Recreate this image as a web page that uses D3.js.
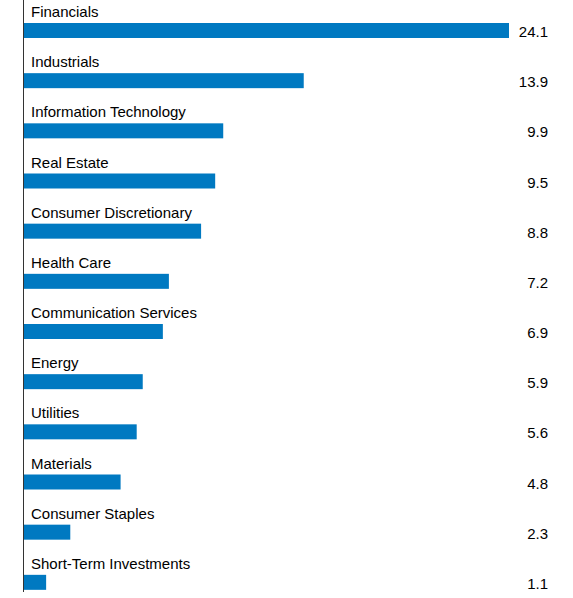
<!DOCTYPE html>
<html><head><meta charset="utf-8">
<script src="https://cdn.jsdelivr.net/npm/d3@7"></script>
<style>body{margin:0;background:#fff}</style></head>
<body><svg id="c" width="573" height="598"></svg>
<script>
const categories = ["Financials","Industrials","Information Technology","Real Estate","Consumer Discretionary","Health Care","Communication Services","Energy","Utilities","Materials","Consumer Staples","Short-Term Investments"];
const values = [24.1,13.9,9.9,9.5,8.8,7.2,6.9,5.9,5.6,4.8,2.3,1.1];
const valueLabels = ["24.1","13.9","9.9","9.5","8.8","7.2","6.9","5.9","5.6","4.8","2.3","1.1"];

const svg = d3.select("#c");
const x = d3.scaleLinear().domain([0,24.1]).range([24,509]);
const y = d3.scaleBand().domain(categories).range([0,602]).paddingInner(0).paddingOuter(0);
const barH = 15, barOff = 23;
const font = "Liberation Sans, Arial, sans-serif";

svg.append("line").attr("x1",23.5).attr("x2",23.5).attr("y1",0).attr("y2",592)
  .attr("stroke","#333").attr("stroke-width",1);

const g = svg.selectAll("g.row").data(categories).join("g").attr("class","row")
  .attr("transform",c=>`translate(0,${y(c)})`);
g.append("rect").attr("x",x(0)).attr("y",barOff).attr("height",barH)
  .attr("width",(c,i)=>x(values[i])-x(0)).attr("fill","#0079c1");
g.append("text").attr("x",31).attr("y",17).text(c=>c)
  .attr("font-family",font).attr("font-size",15).attr("fill","#000");
g.append("text").attr("x",548).attr("y",37).attr("text-anchor","end").text((c,i)=>valueLabels[i])
  .attr("font-family",font).attr("font-size",15).attr("fill","#000");
</script></body></html>
